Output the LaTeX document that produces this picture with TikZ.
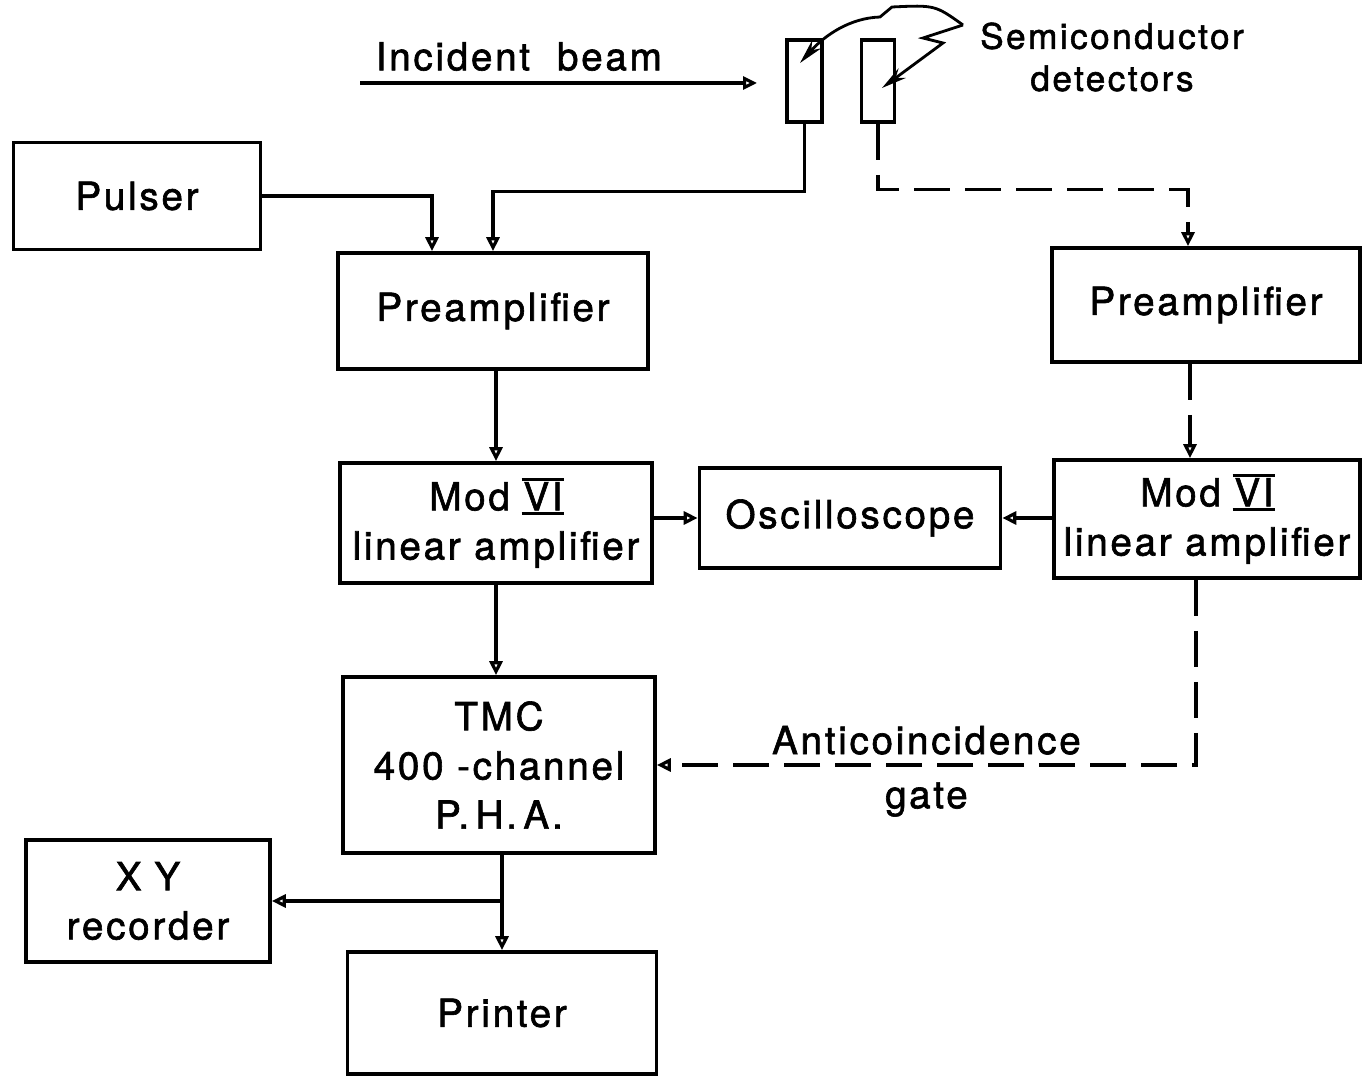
\documentclass[tikz,border=0pt]{standalone}
\usepackage{fontspec}
\usetikzlibrary{arrows.meta,positioning}
\newfontfamily\lettering{TeX Gyre Heros}[LetterSpace=7.0, FakeBold=1.6]
\newcommand{\romanbar}[1]{\setbox0\hbox{#1}%
  \rlap{\kern-1pt\rule[-2.5pt]{\dimexpr\wd0+2pt\relax}{1.8pt}}%
  \rlap{\kern-1pt\rule[\dimexpr\ht0+0.5pt\relax]{\dimexpr\wd0+2pt\relax}{1.8pt}}\box0}

\begin{document}
\begin{tikzpicture}[
  box/.style={draw, line width=2.1pt, inner sep=0pt, align=center,
              font=\lettering\fontsize{22}{28}\selectfont},
  lbl/.style={font=\lettering\fontsize{22}{28}\selectfont, inner sep=1pt},
  arr/.style={line width=1.8pt, -{Triangle[open, length=2.8mm, width=2.6mm]}},
  dsh/.style={arr, dash pattern=on 0.72cm off 0.3cm},
  bolt/.style={line width=1.6pt, -{Stealth[length=5mm, width=2.4mm]}}
]
\useasboundingbox (0,0) rectangle (27.24,21.58);

% blocks
\node[box, minimum width=4.94cm, minimum height=2.14cm] (pulser) at (2.74,17.66) {Pulser};
\node[box, minimum width=6.2cm,  minimum height=2.32cm] (pre1)   at (9.86,15.36) {Preamplifier};
\node[box, minimum width=6.24cm, minimum height=2.4cm]  (mod1)   at (9.92,11.12) {Mod \romanbar{VI}\\linear\ amplifier};
\node[box, minimum width=6.02cm, minimum height=2.0cm]  (osc)    at (17.0,11.22) {Oscilloscope};
\node[box, minimum width=6.16cm, minimum height=2.28cm] (pre2)   at (24.12,15.48) {Preamplifier};
\node[box, minimum width=6.12cm, minimum height=2.36cm] (mod2)   at (24.14,11.2) {Mod \romanbar{VI}\\linear amplifier};
\node[box, minimum width=6.24cm, minimum height=3.52cm] (pha)    at (9.98,6.28) {TMC\\400 -channel\\P.\,H.\,A.};
\node[box, minimum width=4.88cm, minimum height=2.44cm] (xy)     at (2.96,3.56) {X\,\,Y\\recorder};
\node[box, minimum width=6.18cm, minimum height=2.44cm] (printer) at (10.04,1.32) {Printer};

% detectors
\node[draw, line width=2.1pt, inner sep=0pt, minimum width=0.7cm,  minimum height=1.64cm] (det1) at (16.09,19.96) {};
\node[draw, line width=2.1pt, inner sep=0pt, minimum width=0.66cm, minimum height=1.64cm] (det2) at (17.56,19.96) {};
\node[lbl, font=\lettering\fontsize{20}{24}\selectfont, align=center] (semi) at (22.24,20.44) {Semiconductor\\detectors};

\coordinate (zapstart) at (19.26,21.08);
\draw[bolt] (zapstart) .. controls (18.7,21.48) .. (17.84,21.44) -- (17.6,21.24)
  .. controls (17.0,21.22) and (16.5,20.88) .. ([shift={(-0.09,0.36)}]det1.center);
\draw[bolt] (zapstart) -- (18.46,20.82) -- (18.86,20.72) -- ([shift={(0.08,-0.14)}]det2.center);

% beam
\coordinate (beamstart) at (7.2,19.92);
\coordinate (beamend) at (15.14,19.92);
\draw[arr] (beamstart) -- node[lbl, above=5pt, pos=0.4] {Incident\ \ beam} (beamend);

% signal lines
\draw[arr] (pulser.east) -| ([xshift=-1.22cm]pre1.north);
\draw[arr] (det1.south) -- ++(0,-1.36) -| (pre1.north);
\draw[dsh] (det2.south) -- ++(0,-1.32) -| ([xshift=-0.36cm]pre2.north);
\draw[arr] (mod1.north |- pre1.south) -- (mod1.north);
\draw[arr] (mod1.east |- osc.west) -- (osc.west);
\draw[dsh] (mod2.west |- osc.east) -- (osc.east);
\path ([xshift=-0.32cm]pre2.south) coordinate (p2out);
\draw[dsh] (p2out) -- (p2out |- mod2.north);
\path ([xshift=-0.22cm]mod2.south) coordinate (m2out);
\draw[dsh] (m2out) |- node[lbl, pos=0.75, above=4pt] {Anticoincidence}
                      node[lbl, pos=0.75, below=8pt] {gate} (pha.east);
\draw[arr] (mod1.south) -- (mod1.south |- pha.north);
\draw[arr] (printer.north |- pha.south) -- (printer.north);
\path (printer.north |- xy.east) coordinate (tap);
\draw[arr] (tap) -- (xy.east);
\end{tikzpicture}
\end{document}
